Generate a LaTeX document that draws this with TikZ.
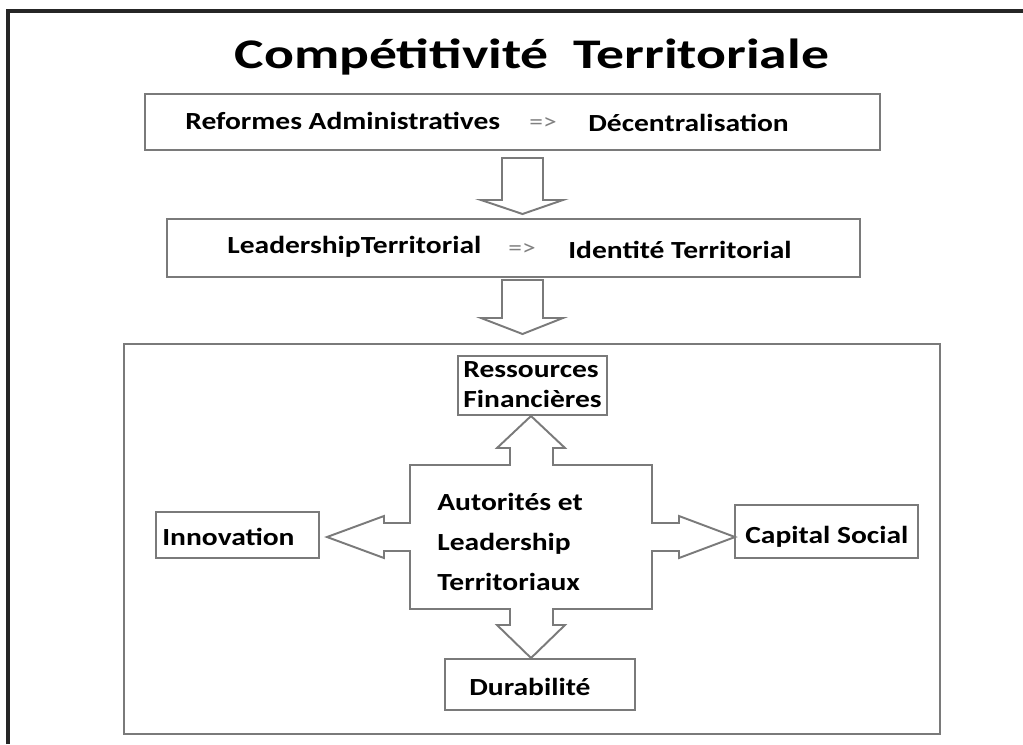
\documentclass[tikz,border=0pt]{standalone}
\usepackage{fontspec}
\setmainfont{Carlito}[FakeStretch=1.2]
\newfontfamily\titlefont{Carlito}[FakeStretch=1.32]
\usetikzlibrary{positioning}
\definecolor{linegray}{HTML}{7A7A7A}
\begin{document}
\begin{tikzpicture}[x=0.02cm,y=-0.02cm,
    box/.style={draw=linegray,line width=1.1pt,inner sep=0pt},
    blk/.style={draw=linegray,line width=1.1pt,fill=white,line join=miter},
    lbl/.style={font=\bfseries\fontsize{14}{22.7}\selectfont,inner sep=0pt,anchor=base west},
    impl/.style={font=\fontsize{13}{15}\selectfont,text=gray,inner sep=0pt,anchor=base west}]
\useasboundingbox (0,0) rectangle (1023,744);
% outer frame
\draw[line width=1.8pt,black!85](8,744)--(8,11)--(1023,11);
\node[font=\titlefont\bfseries\fontsize{24}{28}\selectfont,inner sep=0pt,anchor=base] (titre) at (532,68) {Compétitivité\ \ Territoriale};
% the two steps
\node[box,minimum height=56*0.02cm,minimum width=735*0.02cm] (reforme) at (512.5,122) {};
\node[lbl] (ra) at (185,129) {Reformes Administratives};
\node[impl] (imp1) at (529,129) {=>};
\node[lbl] (dec) at (588,131) {Décentralisation};
\node[box,minimum height=58*0.02cm,minimum width=693*0.02cm] (leader) at (513.5,248) {};
\node[lbl] (lt) at (227,253) {LeadershipTerritorial};
\node[impl] (imp2) at (508,255) {=>};
\node[lbl] (it) at (568,258) {Identité Territorial};
\foreach \t/\h/\b in {158/200/214,280/318/334}
  \draw[blk](502,\t)--(543,\t)--(543,\h)--(563,\h)--(522.5,\b)--(481,\h)--(502,\h)--cycle;
% the big box
\node[box,minimum width=816*0.02cm,minimum height=390*0.02cm] (cadre) at (532,539) {};
\draw[blk](410,465)--(510,465)--(510,448)--(497,448)--(531,416)--(565,448)--(553,448)--(553,465)
  --(652,465)--(652,523)--(679,523)--(679,516)--(735,537)--(679,558)--(679,551)--(652,551)
  --(652,609)--(553,609)--(553,625)--(565,625)--(531,658)--(497,625)--(510,625)--(510,609)
  --(410,609)--(410,551)--(384,551)--(384,558)--(327,537)--(384,516)--(384,523)--(410,523)--cycle;
\node[lbl,align=left] (auto) at (437,590) {Autorités et\\Leadership\\Territoriaux};
\node[box,minimum width=149*0.02cm,minimum height=59*0.02cm] (ressources) at (532.5,385.5) {};
\node[lbl,align=left,font=\bfseries\fontsize{14}{17}\selectfont] (rf) at (463,407) {Ressources\\Financières};
\node[box,minimum width=163*0.02cm,minimum height=46*0.02cm] (innov) at (237.5,535) {};
\node[lbl] at (162,545) {Innovation};
\node[box,minimum width=183*0.02cm,minimum height=53*0.02cm] (capital) at (826.5,531.5) {};
\node[lbl] at (745,543) {Capital Social};
\node[box,minimum width=190*0.02cm,minimum height=51*0.02cm] (durab) at (540,684.5) {};
\node[lbl] at (469,695) {Durabilité};
\end{tikzpicture}
\end{document}
